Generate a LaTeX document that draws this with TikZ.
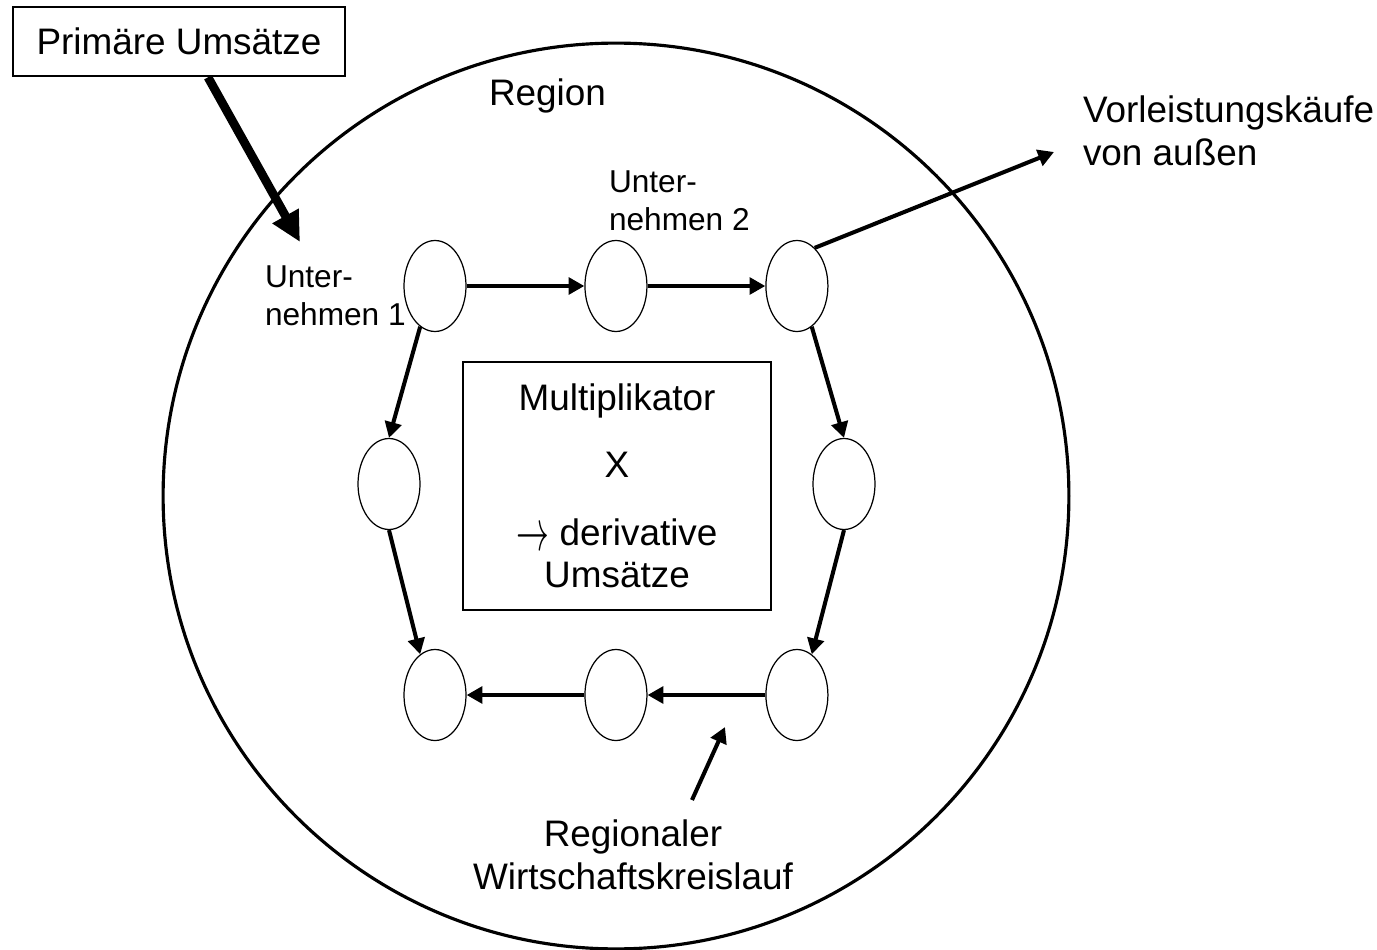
\documentclass[tikz,border=0pt]{standalone}
\usepackage{fontspec}
\setmainfont{Liberation Sans}
\usepackage{graphicx}
\usepackage{tikz}
\usetikzlibrary{shapes}
\usetikzlibrary{arrows.meta,positioning}
\tikzstyle{firm}=[ellipse, draw=black, line width=0.7pt, inner sep=0pt, minimum width=1.24cm, minimum height=1.82cm]
\tikzstyle{lbl}=[font=\fontsize{21}{24.2}\selectfont, inner sep=0pt]
\tikzstyle{sublbl}=[font=\fontsize{18}{21.6}\selectfont, inner sep=0pt, align=left]
\tikzstyle{textbox}=[draw=black, line width=1.5pt]
\newcommand{\derivarrow}{\raisebox{-3pt}{\scalebox{0.9}[1.6]{$\rightarrow$}}}

\begin{document}
\begin{tikzpicture}[->, >={Triangle[length=9pt,width=9.5pt]}, line width=2.3pt, x=0.02cm, y=-0.02cm, node distance=3.62cm]
\useasboundingbox (0,0) rectangle (1377,950);
%
  \draw[-, line width=1.8pt] (616,496) circle [radius=9.06cm];
  \node[lbl, anchor=base west] (reg) at (487,105) {Region};
%
  \node[lbl, textbox, minimum width=6.64cm, minimum height=1.38cm] (pu) at (179,41.5) {Primäre Umsätze};
  \coordinate (pend) at (300,242);
  \draw[line width=5pt, -{Triangle[length=17pt,width=16pt]}] (pu.-51) -- (pend);
%
  \node[firm] (tl) at (435,286) {};
  \node[firm] (tc) [right of=tl] {};
  \node[firm] (tr) [right of=tc] {};
  \node[firm] (ml) at (389,484) {};
  \node[firm] (mr) at (844,484) {};
  \node[firm] (bl) at (435,695) {};
  \node[firm] (bc) [right of=bl] {};
  \node[firm] (br) [right of=bc] {};
%
  \node[sublbl, anchor=north west] (u1) at (263,264) {Unter-\\nehmen 1};
  \node[sublbl, anchor=north west] (u2) at (607,169) {Unter-\\nehmen 2};
%
  \node[lbl, textbox, align=center, minimum width=6.16cm, minimum height=4.96cm] (mult) at (617,486)
    {Multiplikator\\[14pt] X\\[14pt] \derivarrow{} derivative\\ Umsätze};
%
  \node[lbl, align=left, anchor=north west] (vk) at (1081,94) {Vorleistungskäufe\\von außen};
  \coordinate (vkend) at (1054,152);
  \node[lbl, align=center, anchor=north] (rw) at (633,818) {Regionaler\\Wirtschaftskreislauf};
  \coordinate (kreis) at (725,727);
%
  \path[]
  (tl) edge (tc)
  (tc) edge (tr)
  (tl.250) edge (ml.north)
  (ml.south) edge (bl.110)
  (tr.290) edge (mr.north)
  (mr.south) edge (br.70)
  (br) edge (bc)
  (bc) edge (bl)
  (tr.65) edge (vkend)
  ([shift={(59,-18)}]rw.north) edge (kreis);
\end{tikzpicture}
\end{document}
